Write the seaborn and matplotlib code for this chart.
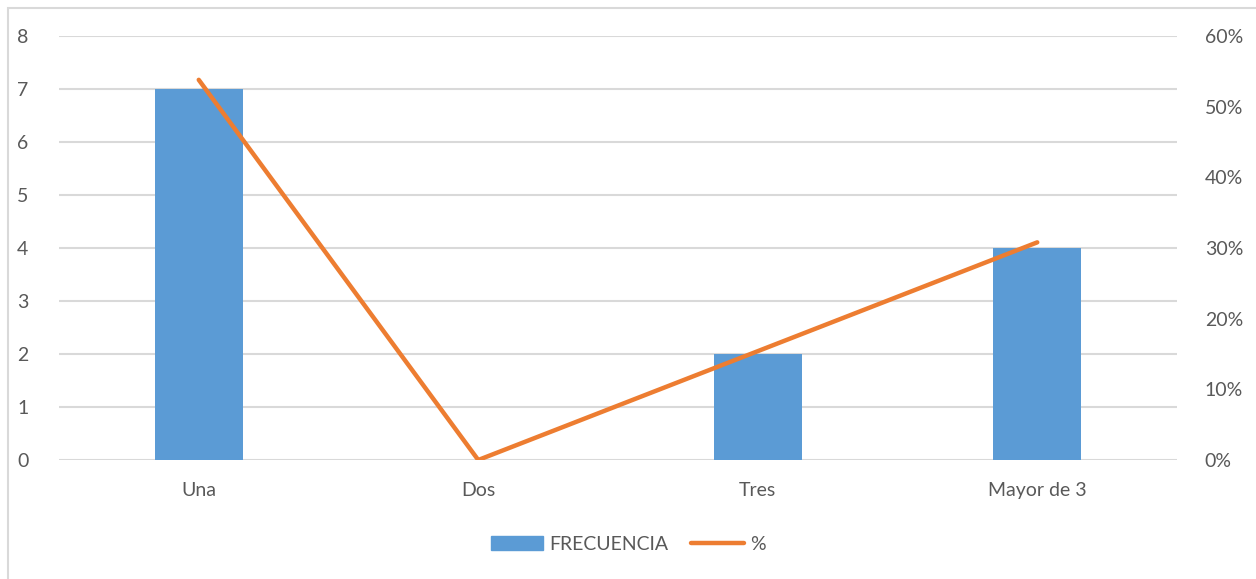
import matplotlib
matplotlib.use("Agg")
import matplotlib.pyplot as plt
import matplotlib.patches as mpatches
from matplotlib.lines import Line2D
from matplotlib.ticker import PercentFormatter
import seaborn as sns

categorias = ["Una", "Dos", "Tres", "Mayor de 3"]
frecuencia = [7, 0, 2, 4]
porcentaje = [53.8, 0.0, 15.4, 30.8]

azul = "#5B9BD5"
naranja = "#ED7D31"
gris = "#595959"
rejilla = "#D9D9D9"

sns.set_style("white")
plt.rcParams["font.family"] = ["Lato", "DejaVu Sans"]

fig = plt.figure(figsize=(12.56, 5.79), dpi=100)
ax = fig.add_axes([59 / 1256, 1 - 460 / 579, (1177 - 59) / 1256, (460 - 36) / 579])

sns.barplot(x=categorias, y=frecuencia, color=azul, width=0.315, saturation=1,
            linewidth=0, ax=ax)
ax.set_ylim(0, 8)
ax.set_yticks(range(0, 9))
ax.grid(axis="y", color=rejilla, lw=1.5)
ax.set_axisbelow(True)
for s in ax.spines.values():
    s.set_visible(False)
ax.tick_params(axis="y", length=0, pad=22, labelsize=14, labelcolor=gris)
ax.tick_params(axis="x", length=0, pad=16, labelsize=14, labelcolor=gris)
ax.set_xlim(-0.5, 3.5)

ax2 = ax.twinx()
sns.lineplot(x=categorias, y=porcentaje, color=naranja, lw=3.2, sort=False, ax=ax2)
ax2.set_ylim(0, 60)
ax2.set_yticks(range(0, 61, 10))
ax2.yaxis.set_major_formatter(PercentFormatter(decimals=0))
for s in ax2.spines.values():
    s.set_visible(False)
ax2.tick_params(axis="y", length=0, pad=20, labelsize=14, labelcolor=gris)
ax2.set_ylabel("")
ax2.set_xlim(-0.5, 3.5)

handles = [mpatches.Patch(color=azul, label="FRECUENCIA"),
           Line2D([], [], color=naranja, lw=3.2, solid_capstyle="round", label="%")]
fig.legend(handles=handles, loc="center", bbox_to_anchor=(0.5, 1 - 544 / 579), ncol=2,
           frameon=False, fontsize=14, labelcolor=gris, handlelength=2.7, handleheight=0.7,
           columnspacing=1.2, handletextpad=0.3)

fig.patches.append(mpatches.Rectangle((7.5 / 1256, -0.1), 2, 1.1 - 7.5 / 579, transform=fig.transFigure,
                                      fill=False, edgecolor=rejilla, lw=1.5))

fig.savefig("out.png", dpi=100)
